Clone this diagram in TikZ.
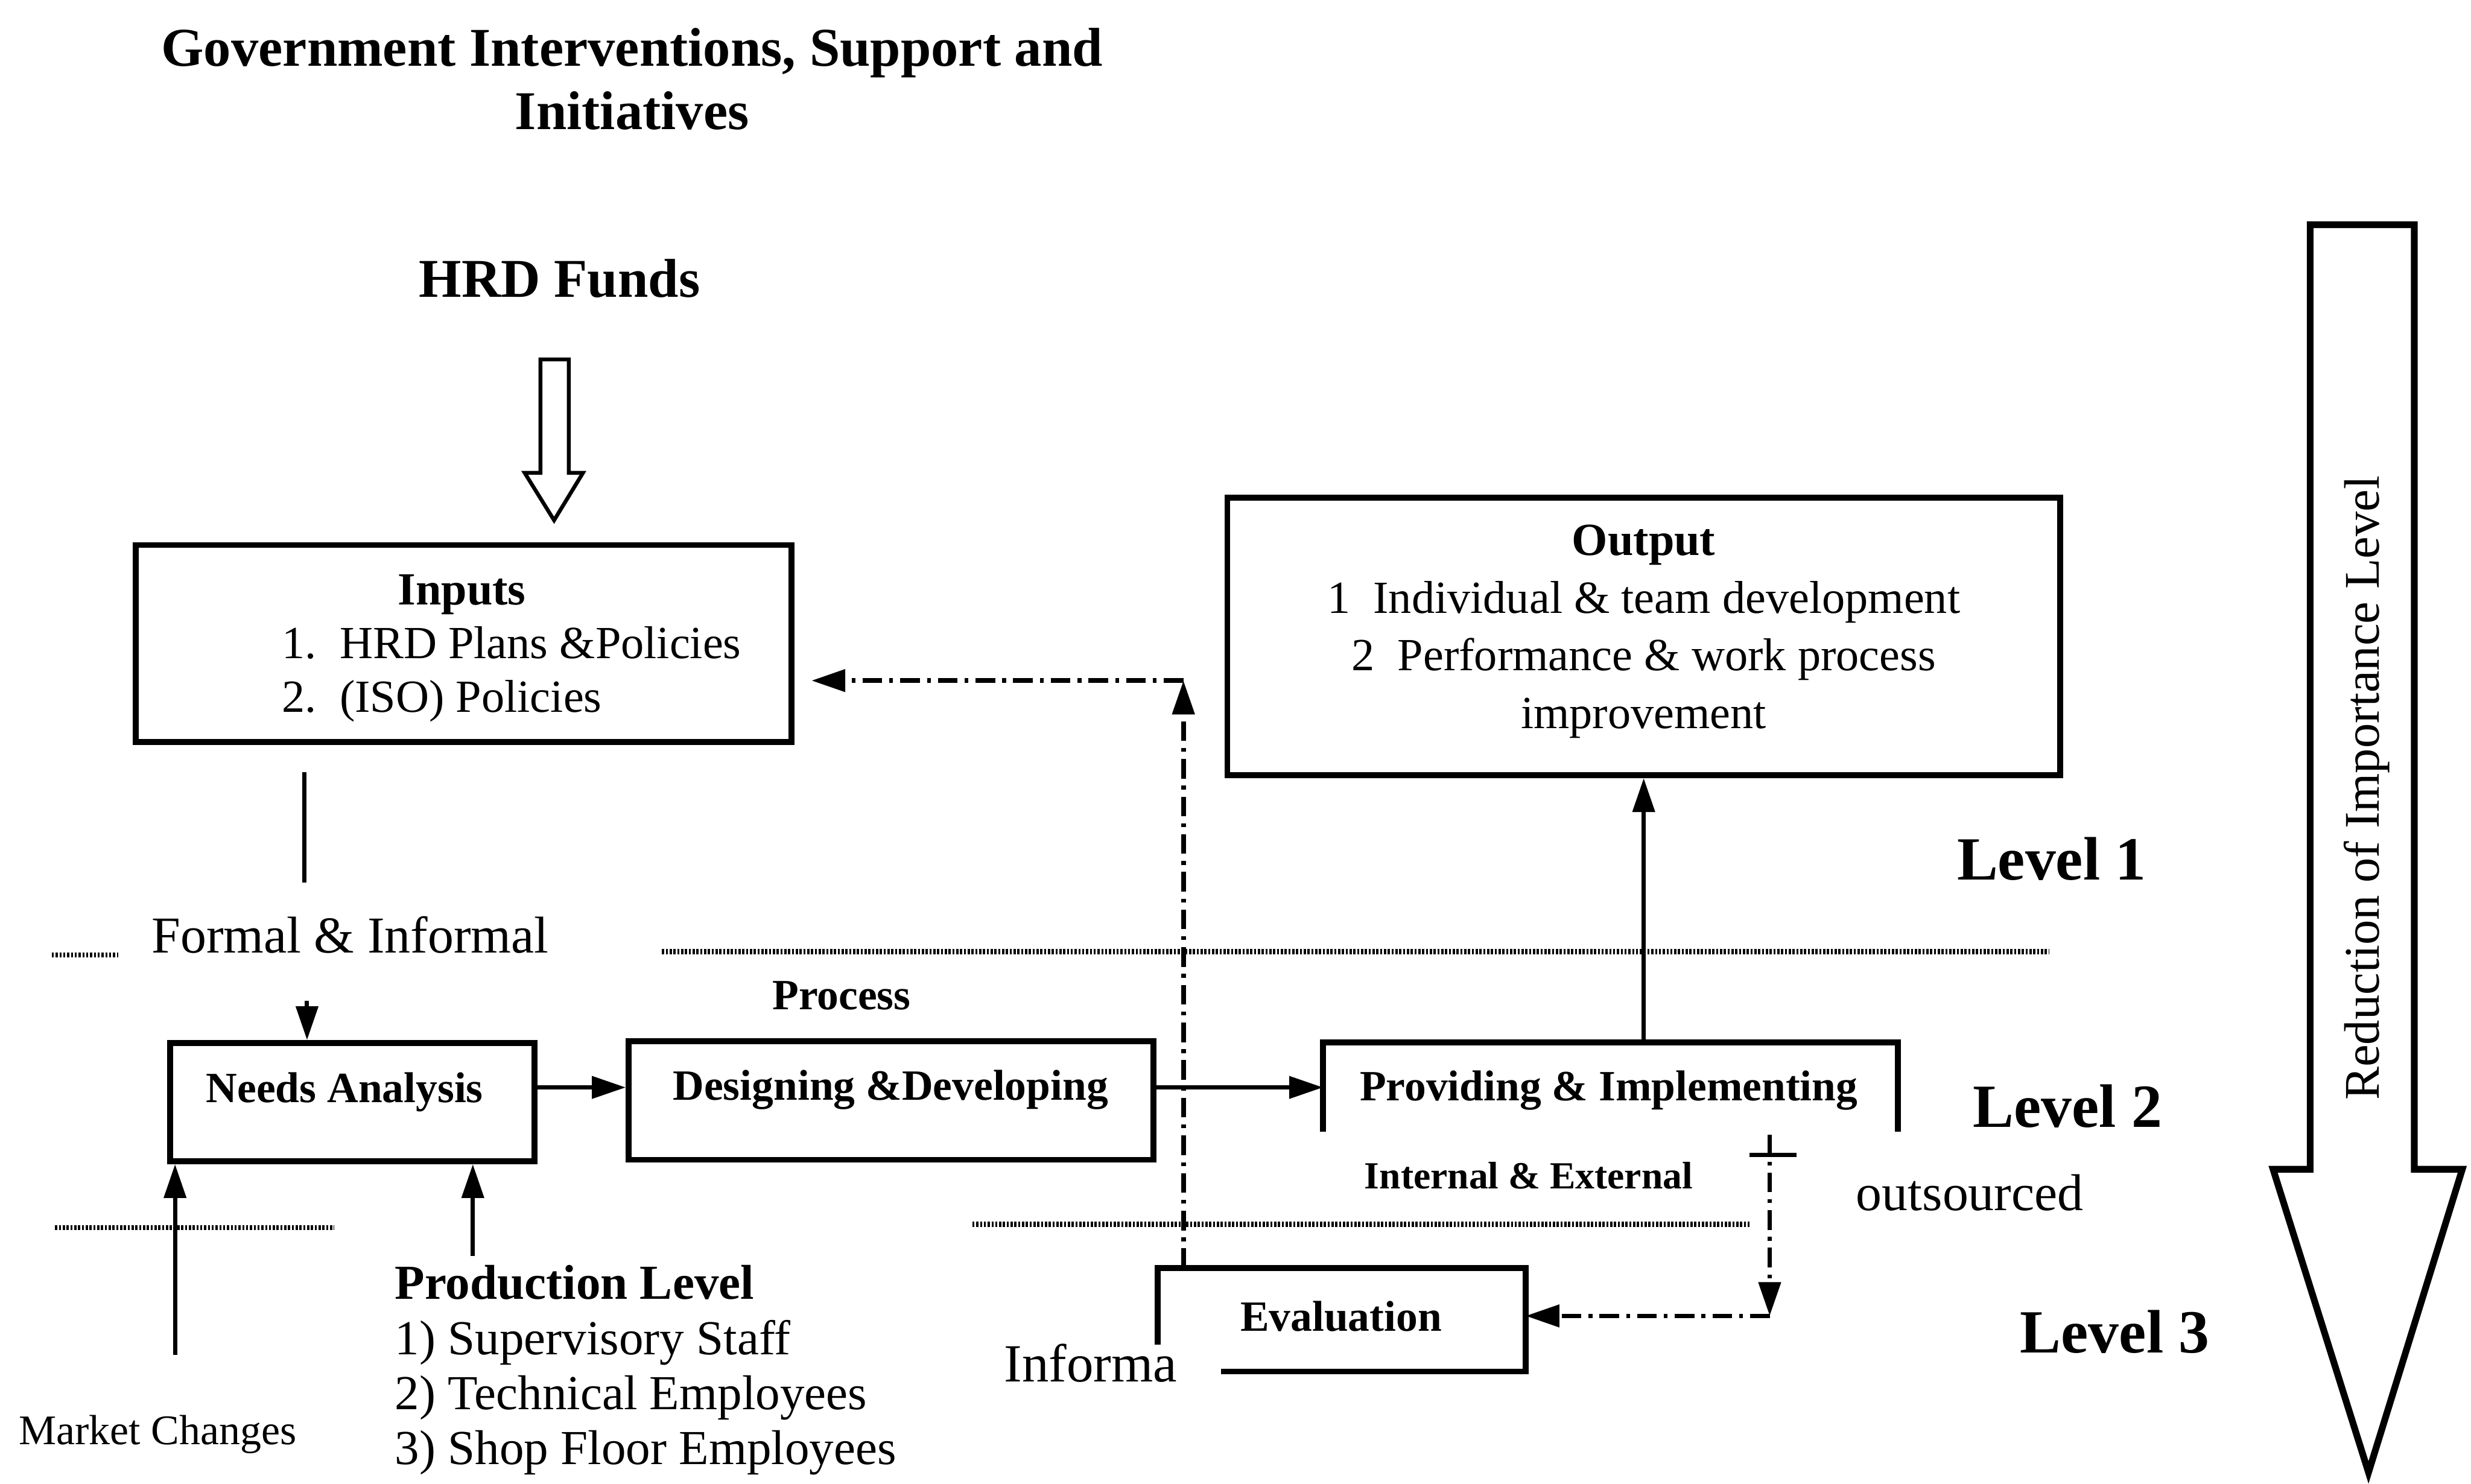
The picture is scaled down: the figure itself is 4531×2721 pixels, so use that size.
\documentclass[tikz,border=0pt]{standalone}
\usepackage{fontspec}
\setmainfont{Liberation Serif}
\usetikzlibrary{arrows.meta,calc}

\tikzset{
  boxline/.style={draw, line width=3pt},
  box/.style={boxline, inner sep=0pt},
  plain/.style={line width=2.2pt},
  conn/.style={line width=2.2pt, -{Triangle[length=0.62cm,width=0.4cm]}},
  fb/.style={line width=2.4pt, dash pattern=on 0.36cm off 0.13cm on 0.07cm off 0.13cm,
             -{Triangle[length=0.62cm,width=0.4cm]}},
  dotline/.style={line width=2.6pt, dash pattern=on 0.04cm off 0.03cm},
  hollow/.style={draw, line width=2pt, fill=white, line join=miter},
  ttl/.style={font=\fontsize{28.5}{33}\selectfont\bfseries, align=center},
  lbl/.style={font=\fontsize{22.5}{27}\selectfont\bfseries},
  body/.style={font=\fontsize{24}{30}\selectfont},
  lvl/.style={font=\fontsize{32}{36}\selectfont\bfseries},
}

\begin{document}
\begin{tikzpicture}[x=0.01cm, y=-0.01cm]
\useasboundingbox[fill=white] (0,0) rectangle (4531,2721);

% heading
\node[ttl] (title) at (1159,145) {Government Interventions, Support and\\Initiatives};
\node[ttl] (funds) at (1026,511) {HRD Funds};

% hollow arrow below the funds
\draw[hollow] (991,659) -- (1043,659) -- (1043,867) -- (1069,867) -- (1016,954)
  -- (962,867) -- (991,867) -- cycle;

% inputs box
\node[box, minimum width=12.02cm, minimum height=3.61cm] (inputs) at (850,1180) {};
\node[font=\fontsize{24}{28}\selectfont\bfseries] (intitle) at (847,1090) {Inputs};
\node[body, anchor=west] (in1) at (505,1179) {1.\ \ HRD Plans \&Policies};
\node[body, anchor=west] (in2) at (505,1285) {2.\ \ (ISO) Policies};

% output box
\node[box, minimum width=15.26cm, minimum height=5.09cm] (output) at (3014,1167) {};
\node[body, align=center] (outtext) at (3014,1158)
  {\textbf{Output}\\1\ \ Individual \& team development\\2\ \ Performance \& work process\\improvement};

% process boxes
\node[box, minimum width=6.68cm, minimum height=2.17cm] (needs) at (646,2021) {};
\node[lbl] (needst) at (632,2003) {Needs Analysis};
\node[box, minimum width=9.62cm, minimum height=2.17cm] (desg) at (1634,2018) {};
\node[lbl] (desgt) at (1633,1998) {Designing \&Developing};
\node[minimum width=10.52cm, minimum height=2.17cm, inner sep=0pt] (prov) at (2953,2021) {};
\node[lbl] (provt) at (2950,2000) {Providing \& Implementing};
\draw[boxline] ([yshift=0.55cm]prov.south west) -- (prov.north west) -- (prov.north east)
  -- ([yshift=0.55cm]prov.south east);
\node[minimum width=6.73cm, minimum height=1.88cm, inner sep=0pt] (eval) at (2460,2420) {};
\node[lbl] (evalt) at (2459,2414) {Evaluation};
\draw[boxline] ([xshift=1.16cm]eval.south west) -- (eval.south east) -- (eval.north east)
  -- (eval.north west) -- ([yshift=0.49cm]eval.south west);

% free labels
\node[font=\fontsize{27}{30}\selectfont] (formal) at (642,1714) {Formal \& Informal};
\node[lbl] (process) at (1543,1826) {Process};
\node[font=\fontsize{20}{24}\selectfont\bfseries] (intext) at (2803,2156) {Internal \& External};
\node[font=\fontsize{27}{30}\selectfont] (outs) at (3612,2187) {outsourced};
\node[font=\fontsize{28}{30}\selectfont] (informa) at (2000,2500) {Informa};
\node[font=\fontsize{22}{26}\selectfont] (market) at (289,2630) {Market Changes};
\node[font=\fontsize{25.5}{28.7}\selectfont, align=left, anchor=north west] (prodlvl) at (712,2308)
  {\textbf{Production Level}\\1) Supervisory Staff\\2) Technical Employees\\3) Shop Floor Employees};
\node[lvl] (lv1) at (3762,1575) {Level 1};
\node[lvl] (lv2) at (3791,2028) {Level 2};
\node[lvl] (lv3) at (3878,2442) {Level 3};

% level separators
\draw[dotline] (95,1751) -- (217,1751);
\draw[dotline] (1214,1745) -- (3757,1745);
\draw[dotline] (101,2251) -- (613,2251);
\draw[dotline] (1783,2245) -- (3208,2245);

% main flow
\coordinate (fi0) at (558,1416);
\coordinate (fi1) at (558,1618);
\draw[plain] (fi0) -- (fi1);
\coordinate (fi2) at (563,1835);
\draw[conn] (fi2) -- (fi2 |- needs.north);
\coordinate (arrowy) at (0,1994);
\draw[conn] (needs.east |- arrowy) -- (desg.west |- arrowy);
\draw[conn] (desg.east |- arrowy) -- (prov.west |- arrowy);
\draw[conn] (prov.north -| output.south) -- (output.south);
\coordinate (mk) at (321,2485);
\draw[conn] (mk) -- (mk |- needs.south);
\coordinate (pl) at (867,2303);
\draw[conn] (pl) -- (pl |- needs.south);

% feedback from evaluation to inputs
\coordinate (fbc) at (2170,1248);
\coordinate (fbend) at (1488,1248);
\draw[fb] (eval.north -| fbc) -- (fbc);
\draw[fb] (fbc) -- (fbend);

% outsourced path to evaluation
\coordinate (ot) at (3245,2081);
\coordinate (oc) at (3245,2413);
\draw[fb] (ot) -- (oc);
\draw[plain] (3208,2118) -- (3294,2118);
\draw[fb] (oc) -- (eval.east |- oc);

% importance arrow
\draw[hollow, line width=3.5pt] (4236,412) -- (4427,412) -- (4427,2144) -- (4515,2144)
  -- (4343,2700) -- (4168,2144) -- (4236,2144) -- cycle;
\node[rotate=90, font=\fontsize{26}{30}\selectfont] (reduce) at (4340,1445) {Reduction of Importance Level};
\end{tikzpicture}
\end{document}
